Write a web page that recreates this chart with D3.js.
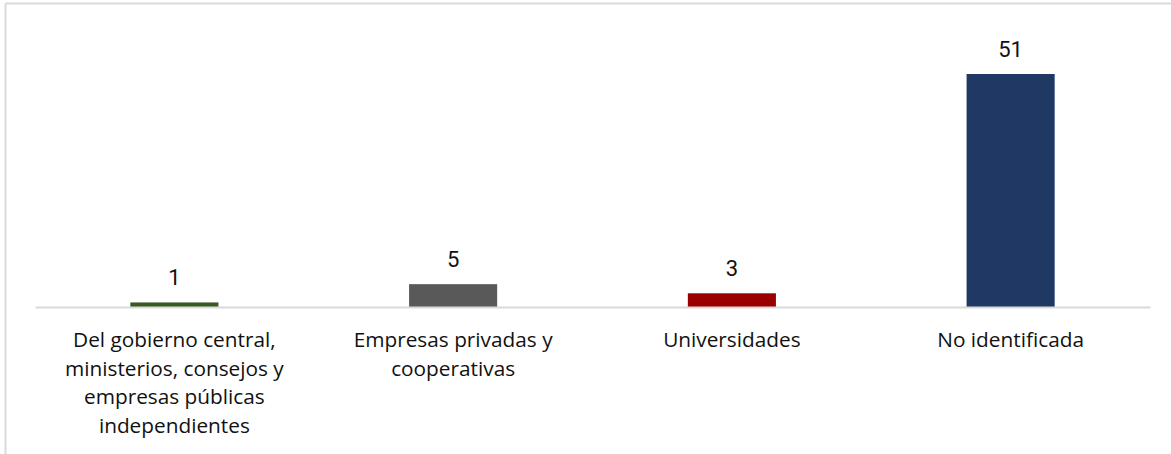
<!DOCTYPE html>
<html>
<head>
<meta charset="utf-8">
<script src="https://cdn.jsdelivr.net/npm/d3@7"></script>
<style>
  html, body { margin: 0; padding: 0; background: #ffffff; }
  svg { display: block; }
</style>
</head>
<body>
<svg id="chart" width="1171" height="454"></svg>
<script>
const categories = [
  "Del gobierno central, ministerios, consejos y empresas públicas independientes",
  "Empresas privadas y cooperativas",
  "Universidades",
  "No identificada"
];
const values = [1, 5, 3, 51];
const colors = ["#3a5a23", "#595959", "#9b0000", "#203864"];

const W = 1171, H = 454;
const margin = { left: 35, right: 21, top: 74, bottom: 147 };
const svg = d3.select("#chart");

// outer frame (left and top edges visible)
svg.append("line").attr("x1", 5.5).attr("x2", 5.5).attr("y1", 3.5).attr("y2", H)
  .attr("stroke", "#d9d9d9").attr("stroke-width", 2);
svg.append("line").attr("x1", 5.5).attr("x2", W).attr("y1", 3.5).attr("y2", 3.5)
  .attr("stroke", "#d9d9d9").attr("stroke-width", 2);

const x = d3.scaleBand()
  .domain(categories)
  .range([margin.left, W - margin.right])
  .paddingInner(0.684)
  .paddingOuter(0.342);

const baseY = H - margin.bottom;
const y = d3.scaleLinear().domain([0, 51]).range([baseY, margin.top]);

svg.append("g").selectAll("rect")
  .data(values)
  .join("rect")
  .attr("x", (d, i) => x(categories[i]))
  .attr("width", x.bandwidth())
  .attr("y", d => y(d))
  .attr("height", d => baseY - y(d))
  .attr("fill", (d, i) => colors[i]);

// axis
const axis = svg.append("g")
  .attr("transform", `translate(0,${baseY})`)
  .call(d3.axisBottom(x).tickSize(0).tickFormat(""));
axis.select(".domain").attr("stroke", "#d9d9d9").attr("stroke-width", 2);

// value labels
svg.append("g").selectAll("text")
  .data(values)
  .join("text")
  .attr("x", (d, i) => x(categories[i]) + x.bandwidth() / 2)
  .attr("y", d => y(d) - 17)
  .attr("text-anchor", "middle")
  .attr("font-family", "Roboto, sans-serif")
  .attr("font-size", 22)
  .attr("fill", "#111")
  .text(d => d);

// category labels with wrapping
const lblG = svg.append("g");
const maxW = 240;
categories.forEach((c, i) => {
  const t = lblG.append("text")
    .attr("x", x(c) + x.bandwidth() / 2)
    .attr("y", 347)
    .attr("text-anchor", "middle")
    .attr("font-family", "'Open Sans', sans-serif")
    .attr("font-size", 20.8)
    .attr("fill", "#111");
  const words = c.split(" ");
  let line = [];
  let lines = [];
  let ts = t.append("tspan");
  words.forEach(w => {
    line.push(w);
    ts.text(line.join(" "));
    if (ts.node().getComputedTextLength() > maxW && line.length > 1) {
      line.pop();
      lines.push(line.join(" "));
      line = [w];
      ts.text(w);
    }
  });
  lines.push(line.join(" "));
  t.text(null);
  lines.forEach((l, k) => {
    t.append("tspan")
      .attr("x", x(c) + x.bandwidth() / 2)
      .attr("dy", k === 0 ? 0 : 28.7)
      .text(l);
  });
});
</script>
</body>
</html>
